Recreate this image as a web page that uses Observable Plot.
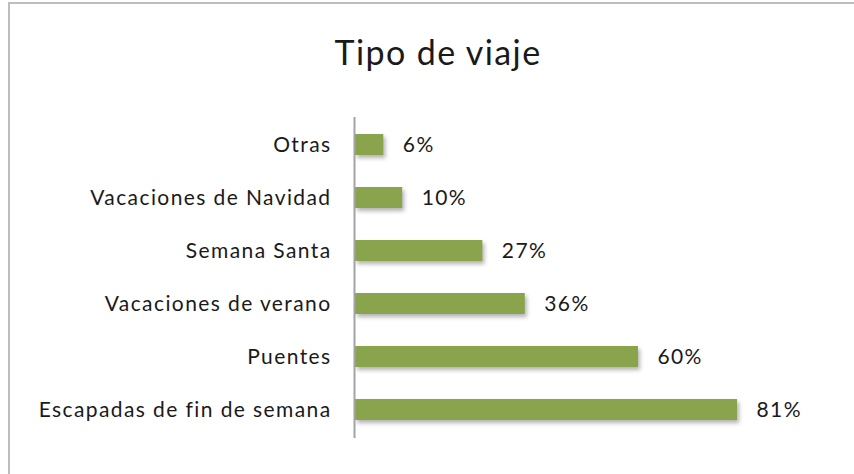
<!DOCTYPE html>
<html><head><meta charset="utf-8">
<script src="https://cdn.jsdelivr.net/npm/d3@7"></script>
<script src="https://cdn.jsdelivr.net/npm/@observablehq/plot@0.6"></script>
<style>
html,body{margin:0;padding:0;background:#fff;width:854px;height:474px;overflow:hidden;position:relative;}
#frame{position:absolute;left:8px;top:2px;width:900px;height:500px;border-left:2px solid #bdbdbd;border-top:2px solid #bdbdbd;box-sizing:border-box;}
#title{position:absolute;left:11px;top:35px;width:854px;text-align:center;font-family:Lato,sans-serif;font-size:34px;line-height:34px;letter-spacing:1.4px;color:#1a1a1a;}
#chart{position:absolute;left:0;top:90px;}
#chart g[aria-label="bar"] rect{filter:drop-shadow(2px 3px 2px rgba(0,0,0,0.3));}
</style>
</head><body>
<div id="frame"></div>
<div id="title">Tipo de viaje</div>
<div id="chart"></div>
<script>
const categories = ["Otras","Vacaciones de Navidad","Semana Santa","Vacaciones de verano","Puentes","Escapadas de fin de semana"];
const values = [6,10,27,36,60,81];
const valueLabels = ["6%","10%","27%","36%","60%","81%"];
const data = categories.map((c,i)=>({tipo:c, pct:values[i], label:valueLabels[i]}));

const chart = Plot.plot({
  width:854, height:384,
  marginTop:27, marginBottom:36, marginLeft:355, marginRight:117,
  style:{fontFamily:"Lato, sans-serif", fontSize:"21px", letterSpacing:"1.4px", color:"#1a1a1a", background:"transparent"},
  x:{domain:[0,81], axis:null},
  y:{domain:categories, paddingInner:0.6, paddingOuter:0.3, label:null, tickSize:0, tickPadding:24},
  marks:[
    Plot.barX(data,{x:"pct", y:"tipo", fill:"#8aa34d"}),
    Plot.ruleX([0],{stroke:"#a3a3a3", strokeWidth:2, dx:-1}),
    Plot.text(data,{x:"pct", y:"tipo", text:"label", textAnchor:"start", dx:19, fontSize:21, fill:"#1a1a1a"})
  ]
});
document.getElementById("chart").appendChild(chart);
</script>
</body></html>
